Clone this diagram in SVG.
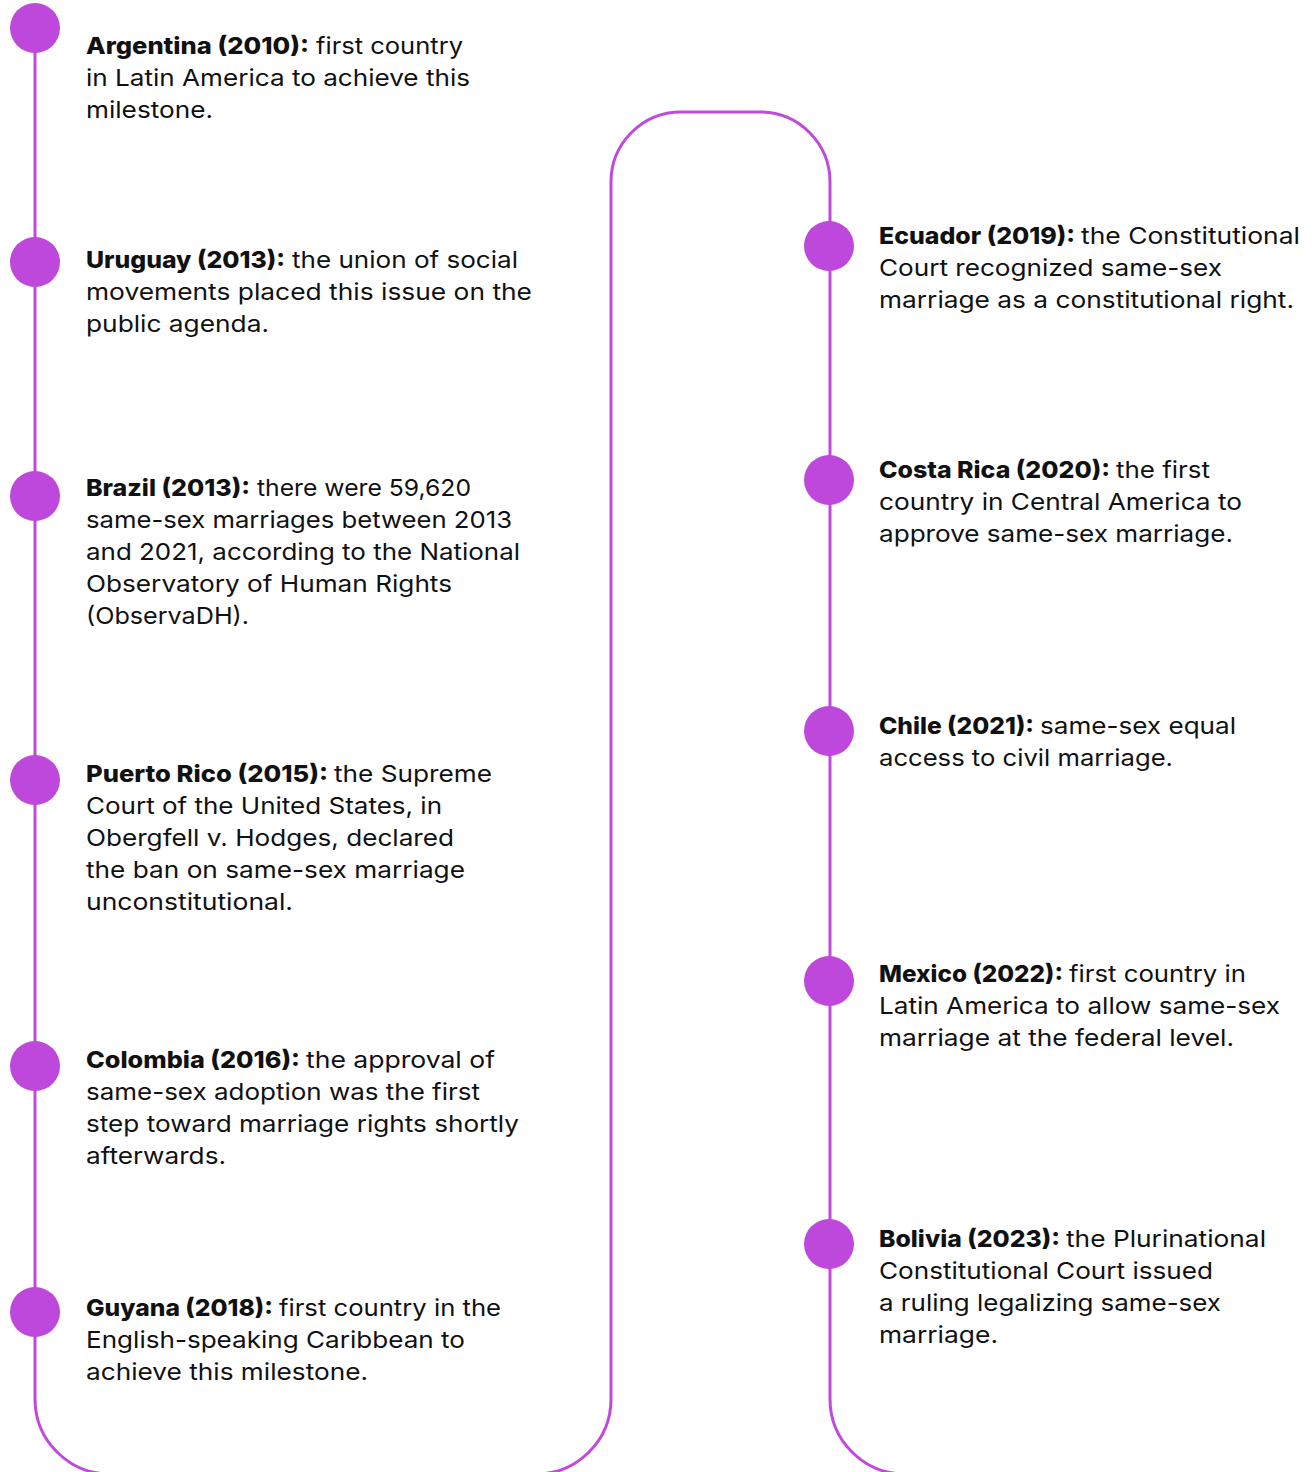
<svg xmlns="http://www.w3.org/2000/svg" width="1316" height="1472" viewBox="0 0 1316 1472">
<style>
text{font-family:Inter,"Liberation Sans",sans-serif;font-size:23.5px;fill:#111111}
.b{font-weight:800}
.r{font-weight:400}
.dot{fill:#BE48DB}
.track{fill:none;stroke:#BF4ADB;stroke-width:3}
</style>
<rect width="1316" height="1472" fill="#ffffff"/>
<g id="connectors">
<path class="track" d="M35 28 V1399 A75 75 0 0 0 110 1474 H536 A75 75 0 0 0 611 1399 V182 A70 70 0 0 1 681 112 H760 A70 70 0 0 1 830 182 V1399 A75 75 0 0 0 905 1474 H1316"/>
</g>
<g id="argentina">
<circle class="dot" cx="35" cy="28" r="25"/>
<text class="b" x="86" y="54" textLength="223" lengthAdjust="spacingAndGlyphs">Argentina (2010):</text>
<text class="r" x="316" y="54" textLength="147" lengthAdjust="spacingAndGlyphs">first country</text>
<text class="r" x="86" y="86" textLength="384" lengthAdjust="spacingAndGlyphs">in Latin America to achieve this</text>
<text class="r" x="86" y="118" textLength="127" lengthAdjust="spacingAndGlyphs">milestone.</text>
</g>
<g id="uruguay">
<circle class="dot" cx="35" cy="262" r="25"/>
<text class="b" x="86" y="268" textLength="199" lengthAdjust="spacingAndGlyphs">Uruguay (2013):</text>
<text class="r" x="292" y="268" textLength="226" lengthAdjust="spacingAndGlyphs">the union of social</text>
<text class="r" x="86" y="300" textLength="446" lengthAdjust="spacingAndGlyphs">movements placed this issue on the</text>
<text class="r" x="86" y="332" textLength="183" lengthAdjust="spacingAndGlyphs">public agenda.</text>
</g>
<g id="brazil">
<circle class="dot" cx="35" cy="496" r="25"/>
<text class="b" x="86" y="496" textLength="164" lengthAdjust="spacingAndGlyphs">Brazil (2013):</text>
<text class="r" x="257" y="496" textLength="214" lengthAdjust="spacingAndGlyphs">there were 59,620</text>
<text class="r" x="86" y="528" textLength="426" lengthAdjust="spacingAndGlyphs">same-sex marriages between 2013</text>
<text class="r" x="86" y="560" textLength="434" lengthAdjust="spacingAndGlyphs">and 2021, according to the National</text>
<text class="r" x="86" y="592" textLength="366" lengthAdjust="spacingAndGlyphs">Observatory of Human Rights</text>
<text class="r" x="86" y="624" textLength="163" lengthAdjust="spacingAndGlyphs">(ObservaDH).</text>
</g>
<g id="puerto-rico">
<circle class="dot" cx="35" cy="780" r="25"/>
<text class="b" x="86" y="782" textLength="242" lengthAdjust="spacingAndGlyphs">Puerto Rico (2015):</text>
<text class="r" x="334" y="782" textLength="158" lengthAdjust="spacingAndGlyphs">the Supreme</text>
<text class="r" x="86" y="814" textLength="356" lengthAdjust="spacingAndGlyphs">Court of the United States, in</text>
<text class="r" x="86" y="846" textLength="368" lengthAdjust="spacingAndGlyphs">Obergfell v. Hodges, declared</text>
<text class="r" x="86" y="878" textLength="379" lengthAdjust="spacingAndGlyphs">the ban on same-sex marriage</text>
<text class="r" x="86" y="910" textLength="207" lengthAdjust="spacingAndGlyphs">unconstitutional.</text>
</g>
<g id="colombia">
<circle class="dot" cx="35" cy="1066" r="25"/>
<text class="b" x="86" y="1068" textLength="214" lengthAdjust="spacingAndGlyphs">Colombia (2016):</text>
<text class="r" x="306" y="1068" textLength="189" lengthAdjust="spacingAndGlyphs">the approval of</text>
<text class="r" x="86" y="1100" textLength="394" lengthAdjust="spacingAndGlyphs">same-sex adoption was the first</text>
<text class="r" x="86" y="1132" textLength="433" lengthAdjust="spacingAndGlyphs">step toward marriage rights shortly</text>
<text class="r" x="86" y="1164" textLength="140" lengthAdjust="spacingAndGlyphs">afterwards.</text>
</g>
<g id="guyana">
<circle class="dot" cx="35" cy="1312" r="25"/>
<text class="b" x="86" y="1316" textLength="187" lengthAdjust="spacingAndGlyphs">Guyana (2018):</text>
<text class="r" x="279" y="1316" textLength="222" lengthAdjust="spacingAndGlyphs">first country in the</text>
<text class="r" x="86" y="1348" textLength="379" lengthAdjust="spacingAndGlyphs">English-speaking Caribbean to</text>
<text class="r" x="86" y="1380" textLength="282" lengthAdjust="spacingAndGlyphs">achieve this milestone.</text>
</g>
<g id="ecuador">
<circle class="dot" cx="829" cy="246" r="25"/>
<text class="b" x="879" y="244" textLength="196" lengthAdjust="spacingAndGlyphs">Ecuador (2019):</text>
<text class="r" x="1081" y="244" textLength="219" lengthAdjust="spacingAndGlyphs">the Constitutional</text>
<text class="r" x="879" y="276" textLength="343" lengthAdjust="spacingAndGlyphs">Court recognized same-sex</text>
<text class="r" x="879" y="308" textLength="415" lengthAdjust="spacingAndGlyphs">marriage as a constitutional right.</text>
</g>
<g id="costa-rica">
<circle class="dot" cx="829" cy="480" r="25"/>
<text class="b" x="879" y="478" textLength="231" lengthAdjust="spacingAndGlyphs">Costa Rica (2020):</text>
<text class="r" x="1116" y="478" textLength="94" lengthAdjust="spacingAndGlyphs">the first</text>
<text class="r" x="879" y="510" textLength="363" lengthAdjust="spacingAndGlyphs">country in Central America to</text>
<text class="r" x="879" y="542" textLength="354" lengthAdjust="spacingAndGlyphs">approve same-sex marriage.</text>
</g>
<g id="chile">
<circle class="dot" cx="829" cy="731" r="25"/>
<text class="b" x="879" y="734" textLength="155" lengthAdjust="spacingAndGlyphs">Chile (2021):</text>
<text class="r" x="1040" y="734" textLength="196" lengthAdjust="spacingAndGlyphs">same-sex equal</text>
<text class="r" x="879" y="766" textLength="294" lengthAdjust="spacingAndGlyphs">access to civil marriage.</text>
</g>
<g id="mexico">
<circle class="dot" cx="829" cy="981" r="25"/>
<text class="b" x="879" y="982" textLength="184" lengthAdjust="spacingAndGlyphs">Mexico (2022):</text>
<text class="r" x="1069" y="982" textLength="177" lengthAdjust="spacingAndGlyphs">first country in</text>
<text class="r" x="879" y="1014" textLength="401" lengthAdjust="spacingAndGlyphs">Latin America to allow same-sex</text>
<text class="r" x="879" y="1046" textLength="355" lengthAdjust="spacingAndGlyphs">marriage at the federal level.</text>
</g>
<g id="bolivia">
<circle class="dot" cx="829" cy="1244" r="25"/>
<text class="b" x="879" y="1247" textLength="181" lengthAdjust="spacingAndGlyphs">Bolivia (2023):</text>
<text class="r" x="1066" y="1247" textLength="200" lengthAdjust="spacingAndGlyphs">the Plurinational</text>
<text class="r" x="879" y="1279" textLength="334" lengthAdjust="spacingAndGlyphs">Constitutional Court issued</text>
<text class="r" x="879" y="1311" textLength="342" lengthAdjust="spacingAndGlyphs">a ruling legalizing same-sex</text>
<text class="r" x="879" y="1343" textLength="119" lengthAdjust="spacingAndGlyphs">marriage.</text>
</g>
</svg>
